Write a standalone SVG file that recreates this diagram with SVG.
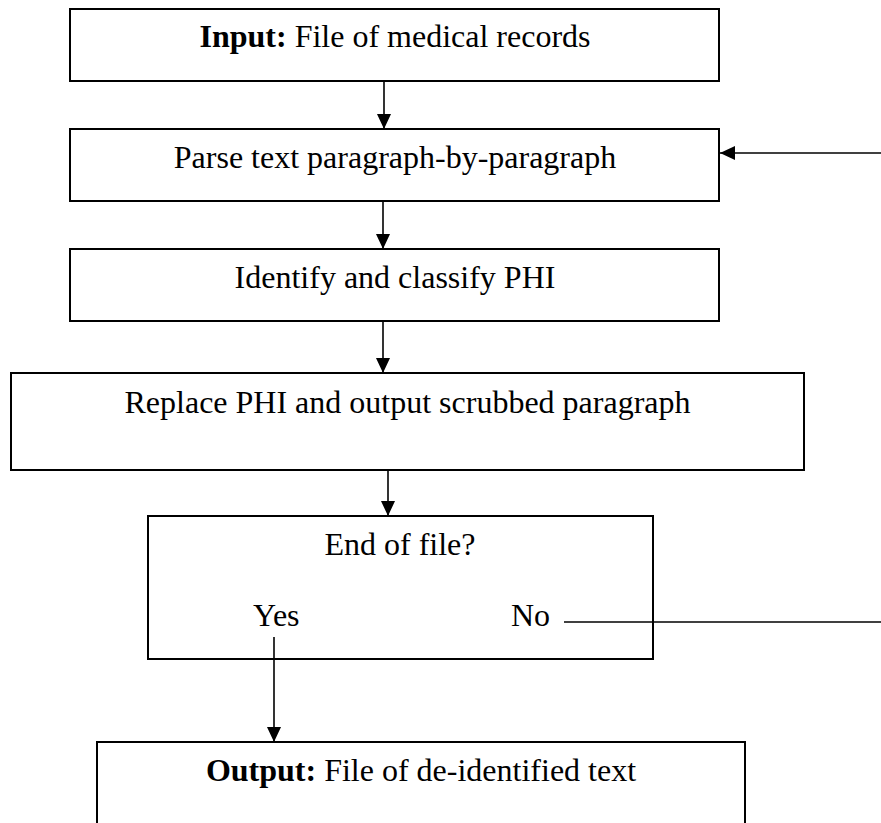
<svg xmlns="http://www.w3.org/2000/svg" width="881" height="823" viewBox="0 0 881 823">
<defs>
<marker id="ah" markerUnits="userSpaceOnUse" markerWidth="16" markerHeight="16" viewBox="0 0 16 16" refX="15" refY="8" orient="auto">
<path d="M0,1 L15,8 L0,15 Z" fill="#000"/>
</marker>
<style>
.box{fill:#fff;stroke:#000;stroke-width:2}
.t{font-family:"Liberation Serif","Times New Roman",serif;font-size:32px;fill:#000}
.b{font-weight:bold}
.c{fill:none;stroke:#000;stroke-width:1.6}
.a{marker-end:url(#ah)}
</style>
</defs>
<rect width="881" height="823" fill="#fff"/>
<g id="input">
<rect class="box" x="70" y="9" width="649" height="72"/>
<text class="t" x="395" y="47" text-anchor="middle"><tspan class="b">Input:</tspan> File of medical records</text>
</g>
<g id="parse">
<rect class="box" x="70" y="129" width="649" height="72"/>
<text class="t" x="395" y="168" text-anchor="middle">Parse text paragraph-by-paragraph</text>
</g>
<g id="identify">
<rect class="box" x="70" y="249" width="649" height="72"/>
<text class="t" x="395" y="288" text-anchor="middle">Identify and classify PHI</text>
</g>
<g id="replace">
<rect class="box" x="11" y="373" width="793" height="97"/>
<text class="t" x="407.5" y="413" text-anchor="middle">Replace PHI and output scrubbed paragraph</text>
</g>
<g id="endoffile">
<rect class="box" x="148" y="516" width="505" height="143"/>
<text class="t" x="400" y="555" text-anchor="middle">End of file?</text>
<text class="t" x="253" y="626">Yes</text>
<text class="t" x="511" y="626">No</text>
</g>
<g id="output">
<rect class="box" x="97" y="742" width="648" height="110"/>
<text class="t" x="421" y="781" text-anchor="middle"><tspan class="b">Output:</tspan> File of de-identified text</text>
</g>
<g id="connectors">
<line class="c a" x1="384" y1="81" x2="384" y2="129"/>
<line class="c a" x1="881" y1="153" x2="720" y2="153"/>
<line class="c a" x1="383" y1="201" x2="383" y2="249"/>
<line class="c a" x1="383" y1="321" x2="383" y2="373"/>
<line class="c a" x1="388" y1="470" x2="388" y2="516"/>
<line class="c" x1="564" y1="622" x2="881" y2="622"/>
<line class="c a" x1="274" y1="637" x2="274" y2="742"/>
</g>
</svg>
